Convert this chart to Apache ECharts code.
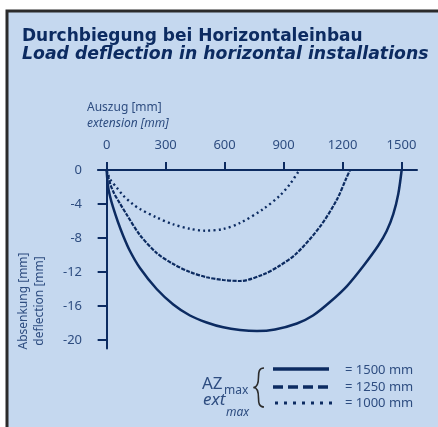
<!DOCTYPE html>
<html>
<head>
<meta charset="utf-8">
<script src="https://cdn.jsdelivr.net/npm/echarts@6/dist/echarts.min.js"></script>
<style>
html,body{margin:0;padding:0;background:#fff;}
#chart{width:438px;height:427px;}
</style>
</head>
<body>
<div id="chart"></div>
<script>
// ---- data ----
const xTicks = [0, 300, 600, 900, 1200, 1500];
const yTicks = [0, -4, -8, -12, -16, -20];

const ext1500X = [0, 6.6, 16.8, 32.1, 57.5, 84.5, 118.6, 169.4, 254.4, 338.9, 423.9, 508.8, 593.3, 678.3, 764.8, 856.4, 968.3, 1049.7, 1136.2, 1222.7, 1304.1, 1382, 1424.7, 1458.3, 1483.7, 1501];
const ext1500Y = [0, -1.88, -3.06, -4.35, -6.12, -7.76, -9.53, -11.53, -14.0, -15.82, -17.12, -17.94, -18.51, -18.82, -18.94, -18.76, -18.06, -17.12, -15.53, -13.65, -11.35, -8.88, -7.18, -5.18, -2.82, 0];

const ext1250X = [0, 16.8, 37.1, 67.7, 101.8, 169.2, 254.2, 338.9, 423.9, 508.8, 593.3, 678.3, 796.8, 881.8, 966.8, 1085.3, 1170.3, 1217.6, 1238];
const ext1250Y = [0, -1.53, -2.71, -3.94, -5.24, -7.65, -9.76, -11.06, -12.0, -12.62, -12.94, -13.06, -12.29, -11.24, -9.8, -6.67, -3.53, -1.06, 0];

const ext1000X = [0, 16.8, 50.9, 84.5, 135.3, 169.2, 254.4, 338.9, 423.9, 500.2, 593.3, 678.3, 796.8, 881.8, 932.7, 981];
const ext1000Y = [0, -1.06, -2.06, -3.0, -4.06, -4.59, -5.59, -6.39, -6.92, -7.14, -6.94, -6.24, -4.59, -3.0, -1.65, 0];

const legendLabels = ['= 1500 mm', '= 1250 mm', '= 1000 mm'];
const titleDe = 'Durchbiegung bei Horizontaleinbau';
const titleEn = 'Load deflection in horizontal installations';
const xNameDe = 'Auszug [mm]';
const xNameEn = 'extension [mm]';
const yNameDe = 'Absenkung [mm]';
const yNameEn = 'deflection [mm]';

// ---- styles ----
const NAVY = '#0c2b61';
const LBL = '#2e4d80';
const FONT = 'Noto Sans';

function pairs(xs, ys) { return xs.map((x, i) => [x, ys[i]]); }

const chart = echarts.init(document.getElementById('chart'), null, {renderer: 'canvas'});

const braceStyle = {fill: null, stroke: '#2b2b2b', lineWidth: 1.6};

const option = {
  backgroundColor: '#ffffff',
  animation: false,
  title: [
    {text: titleDe, left: 17, top: 23,
     textStyle: {fontFamily: 'DejaVu Sans', fontWeight: 'bold', fontSize: 17, color: NAVY}},
    {text: titleEn, left: 17, top: 41,
     textStyle: {fontFamily: 'DejaVu Sans', fontWeight: 'bold', fontStyle: 'italic', fontSize: 17.3, color: NAVY}}
  ],
  grid: {left: 98, right: 21, top: 170, bottom: 78.5, containLabel: false},
  xAxis: {
    type: 'value', position: 'top', min: -44, max: 1579,
    axisLine: {onZero: false, lineStyle: {color: NAVY, width: 2}},
    axisTick: {show: true, length: 8, inside: false, customValues: xTicks, lineStyle: {color: NAVY, width: 2}},
    axisLabel: {customValues: xTicks, margin: 18, color: LBL, fontFamily: FONT, fontSize: 13,
                formatter: v => String(v)},
    splitLine: {show: false}
  },
  yAxis: {
    type: 'value', min: -21, max: 0,
    axisLine: {onZero: true, lineStyle: {color: NAVY, width: 2}},
    axisTick: {show: true, length: 9, inside: false, customValues: yTicks, lineStyle: {color: NAVY, width: 2}},
    axisLabel: {customValues: yTicks, margin: 16, color: LBL, fontFamily: FONT, fontSize: 13,
                formatter: v => String(v)},
    splitLine: {show: false}
  },
  series: [
    {type: 'line', name: '1500', data: pairs(ext1500X, ext1500Y), smooth: 0.3, symbol: 'none',
     lineStyle: {color: NAVY, width: 2.5, type: 'solid'}},
    {type: 'line', name: '1250', data: pairs(ext1250X, ext1250Y), smooth: 0.3, symbol: 'none',
     lineStyle: {color: NAVY, width: 2.2, type: [4, 1.3]}},
    {type: 'line', name: '1000', data: pairs(ext1000X, ext1000Y), smooth: 0.3, symbol: 'none',
     lineStyle: {color: NAVY, width: 2.4, type: [2, 3.2]}}
  ],
  graphic: [
    {type: 'rect', z: -100, shape: {x: 7, y: 11, width: 450, height: 440},
     style: {fill: '#c5d8ef', stroke: '#2b2b2b', lineWidth: 3}},
    // axis names
    {type: 'text', x: 87, y: 108, style: {text: xNameDe, fill: LBL, font: '12px "Noto Sans"', verticalAlign: 'middle'}},
    {type: 'text', x: 87, y: 124, style: {text: xNameEn, fill: LBL, font: 'italic 12px "Noto Sans"', verticalAlign: 'middle'}},
    {type: 'text', x: 24, y: 301, rotation: Math.PI / 2,
     style: {text: yNameDe, fill: LBL, font: '12px "Noto Sans"', align: 'center', verticalAlign: 'middle'}},
    {type: 'text', x: 40, y: 301, rotation: Math.PI / 2,
     style: {text: yNameEn, fill: LBL, font: '12px "Noto Sans"', align: 'center', verticalAlign: 'middle'}},
    // legend
    {type: 'text', x: 202, y: 393, style: {text: 'AZ', fill: LBL, font: '17px "Noto Sans"', verticalAlign: 'bottom'}},
    {type: 'text', x: 224, y: 397, style: {text: 'max', fill: LBL, font: '12px "Noto Sans"', verticalAlign: 'bottom'}},
    {type: 'text', x: 203, y: 409, style: {text: 'ext', fill: LBL, font: 'italic 17px "Noto Sans"', verticalAlign: 'bottom'}},
    {type: 'text', x: 226, y: 419, style: {text: 'max', fill: LBL, font: 'italic 12px "Noto Sans"', verticalAlign: 'bottom'}},
    {type: 'bezierCurve', shape: {x1: 264, y1: 368, cpx1: 259, cpy1: 368, cpx2: 258.5, cpy2: 372, x2: 258.5, y2: 377}, style: braceStyle},
    {type: 'bezierCurve', shape: {x1: 258.5, y1: 377, cpx1: 258.5, cpy1: 385, cpx2: 257, cpy2: 387.5, x2: 253.5, y2: 387.5}, style: braceStyle},
    {type: 'bezierCurve', shape: {x1: 253.5, y1: 387.5, cpx1: 257, cpy1: 387.5, cpx2: 258.5, cpy2: 390, x2: 258.5, y2: 398}, style: braceStyle},
    {type: 'bezierCurve', shape: {x1: 258.5, y1: 398, cpx1: 258.5, cpy1: 403, cpx2: 259, cpy2: 407, x2: 264, y2: 407}, style: braceStyle},
    {type: 'line', shape: {x1: 273, y1: 369, x2: 329, y2: 369}, style: {stroke: NAVY, lineWidth: 3.5}},
    {type: 'line', shape: {x1: 273, y1: 387, x2: 330, y2: 387}, style: {stroke: NAVY, lineWidth: 3.5, lineDash: [10, 5]}},
    {type: 'line', shape: {x1: 275, y1: 403, x2: 333, y2: 403}, style: {stroke: NAVY, lineWidth: 3, lineDash: [3, 6]}},
    {type: 'text', x: 345, y: 370, style: {text: legendLabels[0], fill: LBL, font: '13px "Noto Sans"', verticalAlign: 'middle'}},
    {type: 'text', x: 345, y: 387, style: {text: legendLabels[1], fill: LBL, font: '13px "Noto Sans"', verticalAlign: 'middle'}},
    {type: 'text', x: 345, y: 403, style: {text: legendLabels[2], fill: LBL, font: '13px "Noto Sans"', verticalAlign: 'middle'}}
  ]
};
chart.setOption(option);
</script>
</body>
</html>
